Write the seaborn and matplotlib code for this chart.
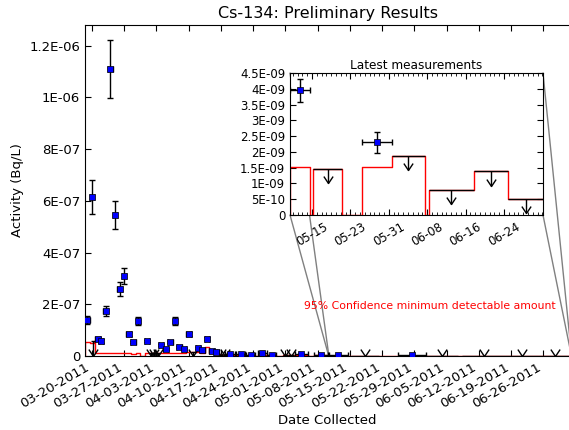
import numpy as np
import pandas as pd
import matplotlib
matplotlib.use("Agg")
import matplotlib.pyplot as plt
import matplotlib.dates as mdates
from matplotlib.path import Path
from matplotlib.patches import ConnectionPatch
from matplotlib.ticker import FuncFormatter, MultipleLocator, FixedLocator
import seaborn as sns

# detected samples: collection midpoint, half-width (days), activity, 1-sigma, MDA  (Bq/L)
det_dates = ["2011-03-19 00:00", "2011-03-20 00:00", "2011-03-21 06:00", "2011-03-22 00:00",
             "2011-03-23 00:00", "2011-03-24 00:00", "2011-03-25 00:00", "2011-03-26 00:00",
             "2011-03-27 00:00", "2011-03-28 00:00", "2011-03-29 00:00", "2011-03-30 00:00",
             "2011-04-01 00:00", "2011-04-04 00:00", "2011-04-05 00:00", "2011-04-06 00:00",
             "2011-04-07 00:00", "2011-04-08 00:00", "2011-04-09 00:00", "2011-04-10 00:00",
             "2011-04-12 00:00", "2011-04-13 00:00", "2011-04-14 00:00", "2011-04-15 00:00",
             "2011-04-16 00:00", "2011-04-19 00:00", "2011-04-21 08:00", "2011-04-23 12:00",
             "2011-04-26 00:00", "2011-04-28 00:00", "2011-05-04 12:00", "2011-05-08 18:00",
             "2011-05-12 12:00", "2011-05-28 12:00"]
det_half = [0.5] * 25 + [1.0, 1.0, 1.0, 1.0, 1.0, 1.5, 1.5, 2.0, 3.08]
det_vals = [1.39e-7, 6.16e-7, 6.6e-8, 5.8e-8, 1.74e-7, 1.111e-6, 5.46e-7, 2.59e-7,
            3.10e-7, 8.5e-8, 5.4e-8, 1.36e-7, 5.8e-8, 4.3e-8, 2.7e-8, 5.4e-8,
            1.36e-7, 3.5e-8, 2.7e-8, 8.5e-8, 3.1e-8, 2.3e-8, 6.6e-8, 1.9e-8,
            1.5e-8, 6e-9, 6e-9, 4e-9, 1.2e-8, 4e-9, 8e-9, 4e-9, 3.95e-9, 2.3e-9]
det_errs = [1.6e-8, 6.5e-8, 6e-9, 6e-9, 2.1e-8, 1.12e-7, 5.4e-8, 2.7e-8,
            3.1e-8, 8e-9, 5e-9, 1.6e-8, 5e-9, 5e-9, 4e-9, 5e-9,
            1.6e-8, 4e-9, 4e-9, 8e-9, 4e-9, 3e-9, 6e-9, 3e-9,
            2e-9, 1e-9, 1e-9, 1e-9, 2e-9, 1e-9, 1e-9, 1e-9, 3.7e-10, 3.3e-10]
det_mda = [5.5e-8, 5.0e-8, 1.2e-8, 1.2e-8, 1.0e-8, 1.2e-8, 1.2e-8, 1.2e-8,
           1.0e-8, 1.0e-8, 8e-9, 1.2e-8, 1.2e-8, 1.2e-8, 1.0e-8, 1.2e-8,
           1.2e-8, 1.0e-8, 1.0e-8, 1.5e-8, 1.5e-8, 1.2e-8, 3.6e-8, 1.0e-8,
           8e-9, 5e-9, 4e-9, 3e-9, 3e-9, 3e-9, 2e-9, 2e-9, 1.51e-9, 1.51e-9]

# samples below the detection limit: midpoint, half-width (days), MDA
nd_dates = ["2011-03-20 06:00", "2011-04-01 18:00", "2011-04-02 14:00", "2011-04-03 10:00",
            "2011-04-11 00:00", "2011-04-17 00:00", "2011-04-18 00:00", "2011-05-01 00:00",
            "2011-05-02 06:00", "2011-05-18 06:00", "2011-06-04 01:00", "2011-06-13 01:00",
            "2011-06-21 07:00", "2011-06-28 14:00"]
nd_half = [0.5, 0.4, 0.4, 0.4, 0.5, 0.5, 0.5, 0.6, 0.6, 3.08, 3.46, 4.75, 3.5, 3.77]
nd_mda = [5.8e-8, 1.2e-8, 1.2e-8, 1.2e-8, 1.5e-8, 4e-9, 4e-9, 3e-9, 3e-9,
          1.45e-9, 1.87e-9, 7.9e-10, 1.38e-9, 5.2e-10]

main_xlim = ["2011-03-18 12:00", "2011-07-01 20:00"]
inset_xlim = ["2011-05-10 10:00", "2011-07-02 03:00"]
inset_ticks = ["2011-05-15", "2011-05-23", "2011-05-31", "2011-06-08", "2011-06-16", "2011-06-24"]
main_ymax = 1.28e-6
inset_ymax = 4.5e-9

sns.set_style("ticks", {"xtick.direction": "in", "ytick.direction": "in",
                        "axes.edgecolor": "black", "text.color": "black",
                        "axes.labelcolor": "black", "xtick.color": "black",
                        "ytick.color": "black"})
plt.rcParams["font.family"] = ["DejaVu Sans"]

det_x = mdates.date2num(pd.to_datetime(det_dates))
nd_x = mdates.date2num(pd.to_datetime(nd_dates))
det_half = np.array(det_half)
nd_half = np.array(nd_half)
nd_mda = np.array(nd_mda)

# MDA step line: one level per collection interval, back to zero in gaps
starts = np.concatenate([det_x - det_half, nd_x - nd_half])
ends = np.concatenate([det_x + det_half, nd_x + nd_half])
mdas = np.concatenate([det_mda, nd_mda])
order = np.argsort(starts)
mda_x, mda_y = [], []
prev_end = None
for s, e, m in zip(starts[order], ends[order], mdas[order]):
    if prev_end is None or s > prev_end + 0.05:
        if prev_end is not None:
            mda_x.append(prev_end)
            mda_y.append(0)
        mda_x.append(s)
        mda_y.append(0)
    else:
        s = prev_end
    if e <= s:
        continue
    mda_x += [s, e]
    mda_y += [m, m]
    prev_end = e
mda_x.append(prev_end)
mda_y.append(0)

chevron = Path([(-1, 1.5), (0, 0), (1, 1.5)], [Path.MOVETO, Path.LINETO, Path.LINETO])
sci = FuncFormatter(lambda v, pos: "%G" % v)


def draw_series(ax, arrow_len):
    ax.plot(mda_x, mda_y, color="red", lw=1, zorder=2)
    ax.errorbar(det_x, det_vals, xerr=det_half, yerr=det_errs, fmt="none",
                ecolor="black", elinewidth=1, capsize=2.5, capthick=1, zorder=3)
    nd = ax.errorbar(nd_x, nd_mda, xerr=nd_half, yerr=arrow_len, uplims=True,
                     fmt="none", ecolor="black", elinewidth=1, capsize=0, zorder=3)
    for cl in nd[1]:
        cl.set_marker(chevron)
        cl.set_markersize(10)
        cl.set_markerfacecolor("none")
        cl.set_markeredgecolor("black")
        cl.set_markeredgewidth(1)
    sns.scatterplot(x=det_x, y=det_vals, ax=ax, marker="s", color="blue",
                    edgecolor="black", linewidth=0.5, s=22, zorder=4, legend=False)


fig = plt.figure(figsize=(5.69, 4.30), dpi=100)
ax = fig.add_axes([0.1494, 0.1721, 0.8526, 0.7698])
draw_series(ax, nd_mda)
ax.set_xlim(mdates.date2num(pd.to_datetime(main_xlim)))
ax.set_ylim(0, main_ymax)
ax.xaxis.set_major_locator(mdates.WeekdayLocator(byweekday=mdates.SU))
ax.xaxis.set_major_formatter(mdates.DateFormatter("%m-%d-%Y"))
ax.yaxis.set_major_locator(MultipleLocator(2e-7))
ax.yaxis.set_major_formatter(sci)
ax.tick_params(axis="both", which="major", labelsize=9.5, length=4, top=True, right=False)
plt.setp(ax.get_xticklabels(), rotation=30, ha="right")
ax.set_title("Cs-134: Preliminary Results", fontsize=11.5, pad=5)
ax.set_xlabel("Date Collected", fontsize=9.5, labelpad=2)
ax.set_ylabel("Activity (Bq/L)", fontsize=9.5)
ax.text(0.971, 0.151, "95% Confidence minimum detectable amount", transform=ax.transAxes,
        color="red", fontsize=7.8, ha="right", va="center")

axins = fig.add_axes([0.5097, 0.5, 0.4446, 0.3302])
axins.set_facecolor("white")
draw_series(axins, np.full(len(nd_mda), 0.1 * inset_ymax))
ix = mdates.date2num(pd.to_datetime(inset_xlim))
axins.set_xlim(ix)
axins.set_ylim(0, inset_ymax)
axins.xaxis.set_major_locator(FixedLocator(mdates.date2num(pd.to_datetime(inset_ticks))))
axins.xaxis.set_minor_locator(mdates.DayLocator())
axins.xaxis.set_major_formatter(mdates.DateFormatter("%m-%d"))
axins.yaxis.set_major_locator(MultipleLocator(5e-10))
axins.yaxis.set_major_formatter(sci)
axins.tick_params(axis="both", which="major", labelsize=8.5, length=4, top=True, right=True)
axins.tick_params(axis="x", which="minor", length=2, top=True)
plt.setp(axins.get_xticklabels(), rotation=30, ha="center")
axins.set_title("Latest measurements", fontsize=8.7, pad=3)

# connector lines from the inset corners to the zoomed region
for ca, cb in [((0, 0), (ix[0], 0)), ((0, 1), (ix[0], inset_ymax)),
               ((1, 1), (ix[1], inset_ymax)), ((1, 0), (ix[1], 0))]:
    con = ConnectionPatch(xyA=ca, coordsA=axins.transAxes, xyB=cb, coordsB=ax.transData,
                          color="0.5", lw=1)
    ax.add_artist(con)

fig.savefig("out.png", dpi=100)
